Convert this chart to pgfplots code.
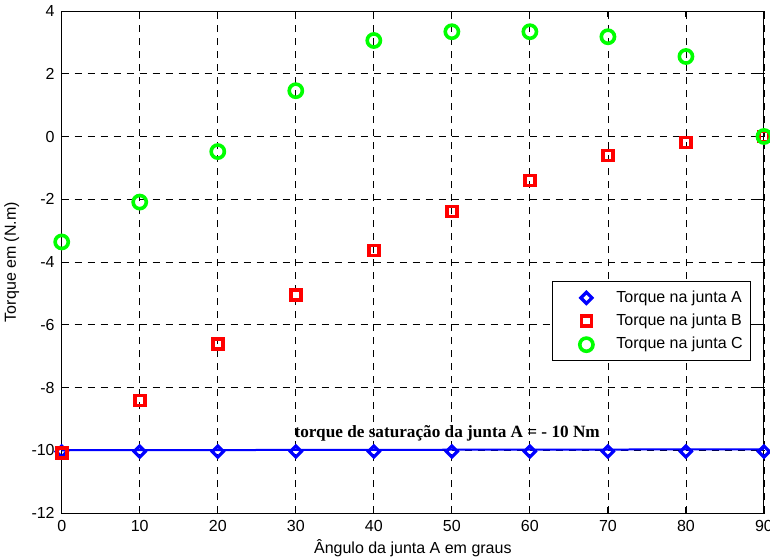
\documentclass[border=0pt]{standalone}
\usepackage{fontspec}
\setmainfont{Liberation Sans}
\newfontfamily\annfont{Liberation Serif}
\usepackage{pgfplots}
\pgfplotsset{compat=1.18}
\begin{document}
\begin{tikzpicture}
\useasboundingbox (-30.85pt,-23pt) rectangle (354.15pt,256.5pt);
\begin{axis}[
  at={(0,0)}, anchor=south west,
  scale only axis, width=351.15pt, height=251pt,
  xmin=0, xmax=90, ymin=-12, ymax=4,
  xtick={0,10,...,90}, ytick={-12,-10,...,4},
  grid=major,
  major grid style={black, dash pattern=on 3.5pt off 3pt, line width=0.4pt},
  tick align=inside, major tick length=3pt,
  axis line style={line width=0.5pt},
  tick style={black, line width=0.5pt},
  ticklabel style={font=\fontsize{8}{9.6}\selectfont},
  /pgf/number format/assume math mode=true,
  xlabel={Ângulo da junta A em graus},
  ylabel={Torque em (N.m)},
  label style={font=\fontsize{8}{9.6}\selectfont},
  x label style={at={(axis description cs:0.5,-0.0697)}, anchor=center},
  y label style={at={(axis description cs:-0.0712,0.5)}, anchor=center},
  legend style={at={(0.698,0.462)}, anchor=north west, draw=black, line width=0.5pt,
    font=\fontsize{8}{9.6}\selectfont, inner xsep=2pt, inner ysep=2.5pt, row sep=0.4pt},
  legend cell align=left,
  legend image code/.code={\path[draw=none,fill=none] (-15pt,-3pt) rectangle (13pt,3pt); \draw[#1] plot coordinates {(0pt,0pt)};},
]
\addplot[blue, only marks, mark=square, mark size=1.95pt,
  mark options={rotate=45, line width=1.6pt, solid, fill=white}]
  coordinates {(0,-10.04) (10,-10.04) (20,-10.04) (30,-10.04) (40,-10.04) (50,-10.04) (60,-10.04) (70,-10.04) (80,-10.04) (90,-10.04)};
\addlegendentry{Torque na junta A}
\addplot[red, only marks, mark=square, mark size=2.5pt,
  mark options={line width=1.8pt, solid, fill=white}]
  coordinates {(0,-10.08) (10,-8.41) (20,-6.62) (30,-5.06) (40,-3.63) (50,-2.39) (60,-1.40) (70,-0.60) (80,-0.19) (90,0.0)};
\addlegendentry{Torque na junta B}
\addplot[green, only marks, mark=o, mark size=3.3pt,
  mark options={line width=1.8pt, solid}]
  coordinates {(0,-3.36) (10,-2.09) (20,-0.48) (30,1.46) (40,3.06) (50,3.34) (60,3.34) (70,3.18) (80,2.55) (90,0.0)};
\addlegendentry{Torque na junta C}
\addplot[blue, line width=1pt, forget plot] coordinates {(0,-10.0) (90,-9.97)};
\node[anchor=base, font={\annfont\bfseries\fontsize{8.6}{10}\selectfont}] at (axis cs:49.4,-9.6) {torque de saturação da junta A = - 10 Nm};
\end{axis}
\end{tikzpicture}
\end{document}
